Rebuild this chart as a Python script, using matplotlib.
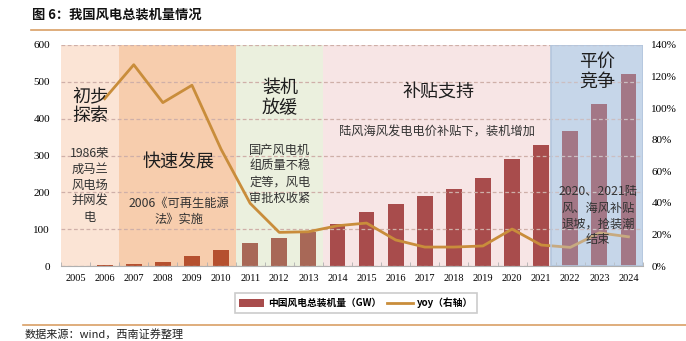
import matplotlib
matplotlib.use("Agg")
import matplotlib.pyplot as plt
from matplotlib.ticker import FuncFormatter, MultipleLocator, FixedLocator
from matplotlib.lines import Line2D
from matplotlib.patches import Patch, Rectangle

years = [str(y) for y in range(2005, 2025)]
capacity = [1.3, 2.6, 5.9, 12.0, 25.8, 44.7, 63.0, 75.5, 92.0, 115.0, 146.0, 169.0,
            189.0, 210.0, 238.0, 291.0, 329.0, 366.0, 441.0, 522.0]
yoy = [None, 1.06, 1.275, 1.035, 1.145, 0.74, 0.397, 0.213, 0.217, 0.255, 0.272, 0.165,
       0.12, 0.12, 0.127, 0.234, 0.133, 0.118, 0.21, 0.185]

# stage definitions: (start index edge, end index edge, bg colour, bar colour)
stage_edges = [-0.5, 1.5, 5.5, 8.5, 16.34, 19.5]
stage_bg = ["#FBE4D5", "#F7CDAD", "#EBF0DE", "#F7E5E5", "#C6D6E9"]
stage_bar = ["#B5502F", "#A86857", "#A84C4C", "#8D3845"]
bar_stage = [0] * 6 + [1] * 3 + [2] * 8 + [3] * 3

CJK = ["Noto Sans CJK SC", "DejaVu Sans"]
SERIF = ["Liberation Serif", "DejaVu Serif"]

fig = plt.figure(figsize=(6.86, 3.41), dpi=100)
ax = fig.add_axes([61 / 686, 75 / 341, 582 / 686, 221 / 341])

x = list(range(len(years)))
for i in range(5):
    ax.axvspan(stage_edges[i], stage_edges[i + 1], color=stage_bg[i], zorder=0, lw=0)

ax.bar(x, capacity, width=0.54, color=[stage_bar[s] for s in bar_stage], zorder=2)
ax.set_xlim(-0.5, 19.5)
ax.set_ylim(0, 600)
ax.yaxis.set_major_locator(MultipleLocator(100))
ax.grid(axis="y", color="#CFAFA8", linestyle=(0, (3, 2)), lw=0.9, zorder=1)
ax.set_axisbelow(False)
for s in ["top", "left", "right"]:
    ax.spines[s].set_visible(False)
ax.spines["bottom"].set_color("#B0B0B0")
ax.spines["bottom"].set_zorder(5)
ax.set_xticks(x)
ax.set_xticklabels(years, fontfamily=SERIF, fontsize=7.5)
ax.xaxis.set_minor_locator(FixedLocator([i + 0.5 for i in range(-1, 20)]))
ax.tick_params(axis="x", which="major", length=0, pad=6)
ax.tick_params(axis="x", which="minor", length=3, direction="in", color="#B0B0B0")
ax.tick_params(axis="y", length=0, pad=8)
for lab in ax.get_yticklabels():
    lab.set_fontfamily(SERIF)
    lab.set_fontsize(8)

ax2 = ax.twinx()
ax2.set_ylim(0, 1.4)
ax2.yaxis.set_major_locator(MultipleLocator(0.2))
ax2.yaxis.set_major_formatter(FuncFormatter(lambda v, p: f"{v*100:.0f}%"))
for s in ["top", "left", "right", "bottom"]:
    ax2.spines[s].set_visible(False)
ax2.tick_params(axis="y", length=0, pad=6)
for lab in ax2.get_yticklabels():
    lab.set_fontfamily(SERIF)
    lab.set_fontsize(8)
yx = [i for i, v in enumerate(yoy) if v is not None]
yv = [v for v in yoy if v is not None]
ax2.plot(yx, yv, color="#C98D3B", lw=2.0, zorder=3)
# translucent overlay for the last stage
ax2.add_patch(Rectangle((stage_edges[4], 0), stage_edges[5] - stage_edges[4], 1.4,
                        facecolor="#C6D6E9", alpha=0.4, edgecolor="none", zorder=4))
ax2.add_patch(Rectangle((stage_edges[4], 0), stage_edges[5] - stage_edges[4], 1.4,
                        facecolor="none", edgecolor="#B3C6DD", lw=1.2, zorder=4))
ax2.set_xlim(-0.5, 19.5)

big = dict(fontfamily=CJK, fontsize=13, color="#1E1E1E", ha="center", va="center",
           linespacing=1.15, zorder=6, transform=ax2.transData)
small = dict(fontfamily=CJK, fontsize=8.8, color="#333333", ha="center", va="center",
             linespacing=1.3, zorder=6, transform=ax2.transData)


def px(xp, yp):
    # convert pixel (figure, from top-left) to ax2 data coords
    xd = -0.5 + (xp - 61) / 582 * 20
    yd = (266 - yp) / 221 * 1.4
    return xd, yd


ax2.text(*px(90, 106), "初步\n探索", **big)
ax2.text(*px(90, 185), "1986荣\n成马兰\n风电场\n并网发\n电", **small)
ax2.text(*px(179, 163), "快速发展", **big)
ax2.text(*px(179, 211), "2006《可再生能源\n法》实施", **small)
ax2.text(*px(280, 98), "装机\n放缓", **big)
ax2.text(*px(280, 174), "国产风电机\n组质量不稳\n定等，风电\n审批权收紧", **small)
ax2.text(*px(438, 92), "补贴支持", **big)
ax2.text(*px(437, 132), "陆风海风发电电价补贴下，装机增加", **small)
ax2.text(*px(597, 72), "平价\n竞争", **big)
ax2.text(*px(598, 216), "2020、2021陆\n风、海风补贴\n退坡，抢装潮\n结束", **small)

# legend
handles = [Patch(facecolor="#A84C4C", edgecolor="none"),
           Line2D([0], [0], color="#C98D3B", lw=2)]
leg = fig.legend(handles, ["中国风电总装机量（GW）", "yoy（右轴）"],
                 loc="center", bbox_to_anchor=(356 / 686, 1 - 303 / 341), ncol=2,
                 prop={"family": CJK, "size": 7, "weight": "bold"},
                 frameon=True, fancybox=False, edgecolor="#BFBFBF",
                 handlelength=2.6, handleheight=0.8, columnspacing=0.6,
                 handletextpad=0.4, borderpad=0.45)
leg.get_frame().set_linewidth(1.2)

# title & decorations
fig.text(32 / 686, 1 - 15 / 341, "图 6：我国风电总装机量情况", fontfamily=CJK,
         fontsize=9.5, fontweight="bold", ha="left", va="center", color="#111111")
fig.add_artist(Line2D([31 / 686, 1.0], [1 - 30 / 341] * 2, color="#D9A066", lw=1.2))
fig.add_artist(Line2D([23 / 686, 1.0], [1 - 324.5 / 341] * 2, color="#D9A066", lw=1.2))
fig.text(25 / 686, 1 - 334.5 / 341, "数据来源：wind，西南证券整理", fontfamily=CJK,
         fontsize=8, style="italic", ha="left", va="center", color="#222222")

fig.savefig("out.png", dpi=100)
